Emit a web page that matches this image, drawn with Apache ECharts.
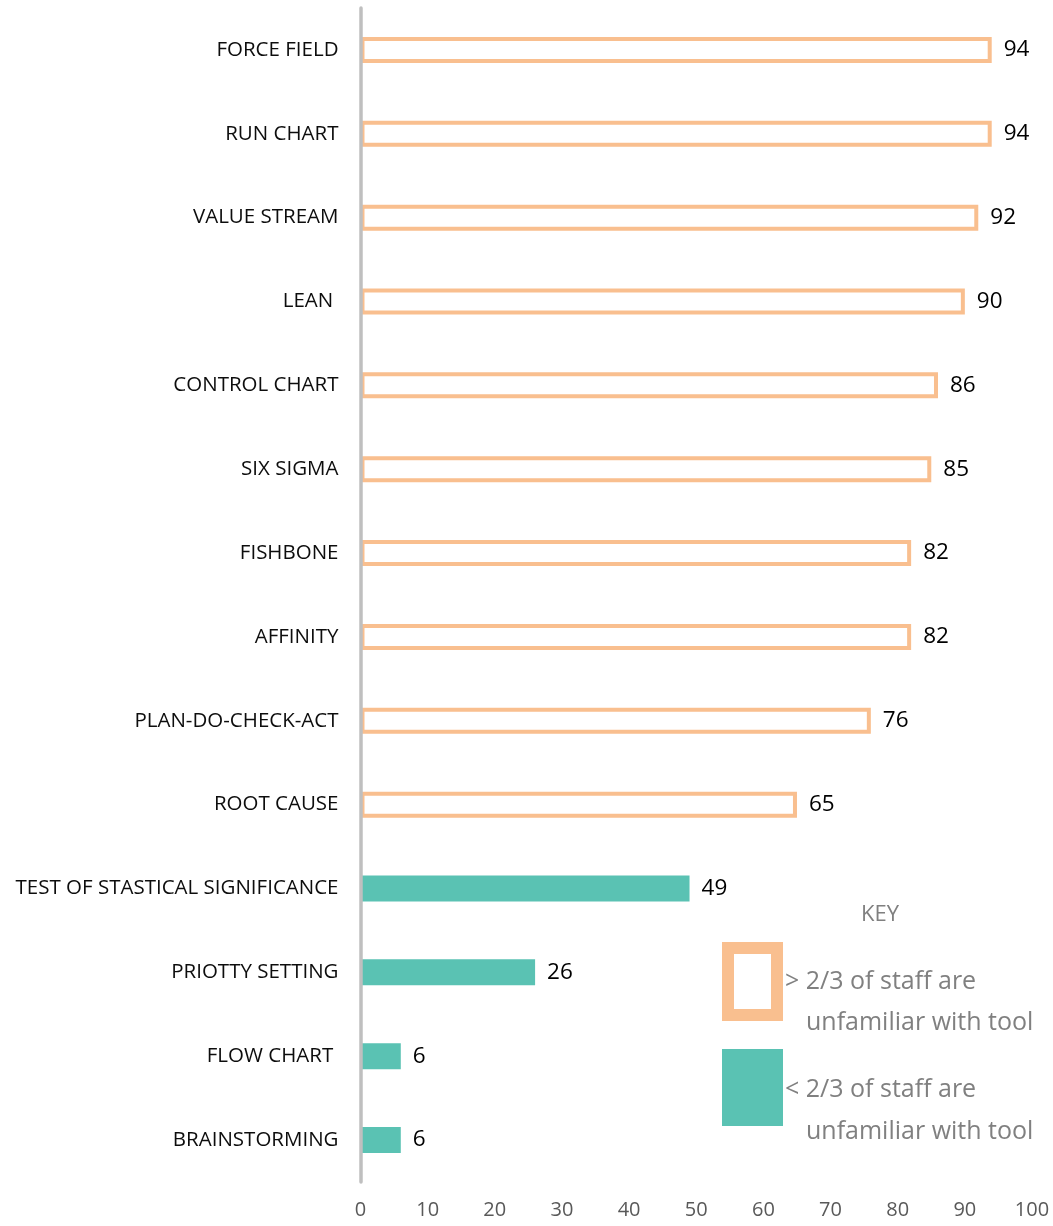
<!DOCTYPE html>
<html>
<head>
<meta charset="utf-8">
<script src="https://cdn.jsdelivr.net/npm/echarts@6/dist/echarts.min.js"></script>
<style>
html,body{margin:0;padding:0;background:#fff;}
#chart{width:1053px;height:1226px;}
</style>
</head>
<body>
<div id="chart"></div>
<script>
const categories = ['FORCE FIELD','RUN CHART','VALUE STREAM','LEAN ','CONTROL CHART','SIX SIGMA','FISHBONE','AFFINITY','PLAN-DO-CHECK-ACT','ROOT CAUSE','TEST OF STASTICAL SIGNIFICANCE','PRIOTTY SETTING','FLOW CHART ','BRAINSTORMING'];
const values = [94,94,92,90,86,85,82,82,76,65,49,26,6,6];
// group: 'high' = > 2/3 of staff unfamiliar (hollow), 'low' = < 2/3 (filled)
const groups = ['high','high','high','high','high','high','high','high','high','high','low','low','low','low'];
const xTicks = [0,10,20,30,40,50,60,70,80,90,100];
const keyTitle = 'KEY';
const keyHigh = ['> 2/3 of staff are','unfamiliar with tool'];
const keyLow = ['< 2/3 of staff are','unfamiliar with tool'];

const ORANGE = '#F9BF8F';
const TEAL = '#5AC2B3';
const FONT = '"Open Sans", sans-serif';

const chart = echarts.init(document.getElementById('chart'));
chart.setOption({
  animation: false,
  grid: {left: 360.5, right: 21, top: 8, bottom: 44, containLabel: false},
  xAxis: {
    type: 'value', min: xTicks[0], max: xTicks[xTicks.length-1], interval: xTicks[1]-xTicks[0],
    axisLine: {show: false}, axisTick: {show: false}, splitLine: {show: false},
    axisLabel: {color: '#595959', fontSize: 20, fontFamily: FONT, margin: 18}
  },
  yAxis: {
    type: 'category', data: categories, inverse: true, z: 10,
    axisLine: {show: true, lineStyle: {color: '#BFBFBF', width: 3.5}},
    axisTick: {show: false},
    axisLabel: {color: '#0d0d0d', fontSize: 20.5, fontFamily: FONT, margin: 22}
  },
  series: [{
    type: 'bar',
    barWidth: 26,
    data: values.map((v, i) => groups[i] === 'high'
      ? {value: v, itemStyle: {color: '#fff', borderColor: ORANGE, borderWidth: 4}}
      : {value: v, itemStyle: {color: TEAL, borderWidth: 0}}),
    label: {show: true, position: 'right', distance: 12, color: '#000', fontSize: 22.5, fontFamily: FONT}
  }],
  graphic: [
    {type: 'text', x: 880, y: 915, style: {text: keyTitle, fill: '#808080', font: '22px ' + FONT, textAlign: 'center', textVerticalAlign: 'middle'}},
    {type: 'rect', shape: {x: 728, y: 948, width: 49, height: 67}, style: {fill: '#fff', stroke: ORANGE, lineWidth: 12}},
    {type: 'text', x: 785, y: 982, style: {text: keyHigh[0], fill: '#808080', font: '25px ' + FONT, textVerticalAlign: 'middle'}},
    {type: 'text', x: 806, y: 1023, style: {text: keyHigh[1], fill: '#808080', font: '25px ' + FONT, textVerticalAlign: 'middle'}},
    {type: 'rect', shape: {x: 722, y: 1049, width: 61, height: 77}, style: {fill: TEAL}},
    {type: 'text', x: 785, y: 1090, style: {text: keyLow[0], fill: '#808080', font: '25px ' + FONT, textVerticalAlign: 'middle'}},
    {type: 'text', x: 806, y: 1132, style: {text: keyLow[1], fill: '#808080', font: '25px ' + FONT, textVerticalAlign: 'middle'}}
  ]
});
</script>
</body>
</html>
